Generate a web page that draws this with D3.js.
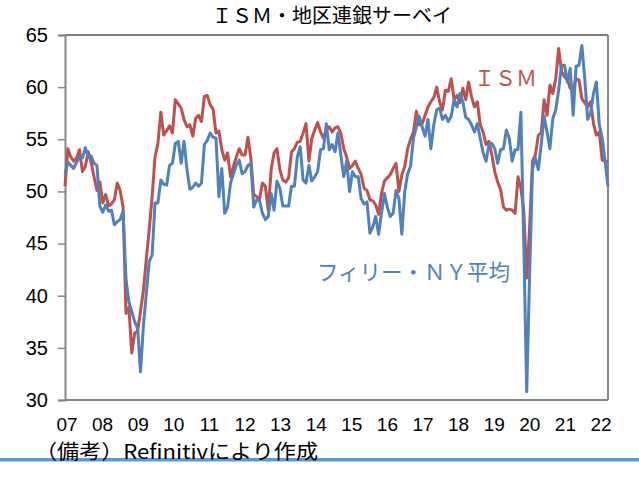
<!DOCTYPE html>
<html>
<head>
<meta charset="utf-8">
<script src="https://cdn.jsdelivr.net/npm/d3@7"></script>
<style>
  html, body { margin: 0; padding: 0; background: #fff; }
  svg { display: block; }
</style>
</head>
<body>
<svg id="chart" width="639" height="478"></svg>
<script>
// ---- data (monthly, Jan 2007 – Aug 2022) ----
const yearLabels = ["07","08","09","10","11","12","13","14","15","16","17","18","19","20","21","22"];
const yTicks = [30, 35, 40, 45, 50, 55, 60, 65];
const seriesNames = ["ＩＳＭ", "フィリー・ＮＹ平均"];
const ism = [
  50.5,54.1,53.3,52.9,53.2,54.0,51.9,52.4,53.8,52.8,51.4,50.1,
  50.9,48.9,49.7,48.6,48.8,49.2,50.8,50.1,48.5,38.3,38.9,34.5,
  36.4,36.6,38.5,40.5,43.5,46.3,49.5,53.3,54.6,57.6,55.4,55.8,
  56.3,55.6,58.8,58.4,58.0,56.9,56.2,56.4,55.3,57.0,57.3,56.7,
  59.1,59.2,58.3,57.9,55.6,55.8,54.0,53.0,53.7,51.4,52.4,53.3,
  54.1,53.5,53.5,55.2,53.2,49.7,49.5,49.3,50.8,50.5,48.2,52.1,
  53.7,54.1,52.1,51.1,50.9,51.3,53.8,54.1,54.7,54.8,55.6,56.5,
  52.9,55.1,55.9,56.6,55.7,55.1,55.9,56.2,55.7,56.1,56.2,55.6,
  54.1,53.3,52.2,52.5,52.9,52.2,51.6,50.3,50.1,49.2,49.1,48.7,
  47.8,49.8,51.0,51.3,51.6,52.2,52.7,50.0,51.6,52.4,54.1,55.0,
  55.7,57.7,56.4,56.5,57.3,58.1,58.6,59.0,60.0,58.6,57.8,59.7,
  59.6,60.8,58.8,59.2,58.5,59.9,58.8,60.5,59.1,58.1,58.6,56.4,
  55.7,54.5,54.8,53.5,51.9,50.9,50.2,48.5,48.2,48.3,48.2,47.9,
  51.4,50.3,48.1,41.7,46.5,52.9,53.5,55.4,55.6,58.8,57.3,60.2,
  59.4,60.8,63.7,61.5,61.0,60.7,59.9,59.9,60.8,60.7,58.9,58.5,
  58.1,58.6,56.5,55.4,55.7,53.0,52.9,52.8
];
const phillyNy = [
  51.6,52.8,52.5,52.2,52.8,53.3,53.2,54.2,53.3,53.4,52.7,52.5,
  48.6,48.0,48.7,48.1,48.2,46.8,47.1,47.3,48.1,41.6,39.4,38.5,
  37.5,36.9,32.7,37.1,40.2,43.3,43.9,48.9,48.9,51.1,50.7,50.6,
  52.5,52.7,54.6,54.8,52.7,54.8,52.1,50.2,50.4,50.8,50.5,50.8,
  54.5,54.9,55.6,55.2,55.1,49.5,52.2,47.9,48.5,50.8,51.7,52.5,
  53.0,51.7,51.9,52.5,52.7,48.5,49.2,49.1,47.9,47.3,47.6,49.8,
  48.2,51.0,50.3,48.6,48.6,48.6,50.5,50.5,53.3,54.3,51.1,50.8,
  52.5,51.0,51.4,51.9,54.0,54.1,56.5,54.0,54.5,53.8,55.6,53.5,
  51.4,52.9,50.0,51.9,51.4,51.4,49.3,48.8,49.0,46.0,46.6,47.6,
  45.9,47.9,49.8,48.5,47.6,47.9,50.1,49.3,45.9,50.0,51.7,52.4,
  55.1,56.2,57.2,56.2,55.3,56.9,54.1,56.4,57.8,58.0,56.9,57.3,
  56.7,57.2,58.8,58.1,59.4,58.6,57.1,56.9,56.4,55.7,56.5,55.1,
  53.7,52.9,54.5,54.6,54.1,52.7,54.0,54.1,55.9,55.1,52.9,54.0,
  54.0,57.6,45.0,30.8,42.0,52.2,53.2,52.1,54.5,57.2,55.7,54.1,
  57.0,57.8,59.7,62.1,62.1,60.5,61.8,57.3,62.0,62.1,64.0,60.8,
  56.9,57.5,59.4,60.5,56.4,55.1,52.9,50.5
];
const titleText = "ＩＳＭ・地区連銀サーベイ";
const noteText = "（備考）Refinitivにより作成";

// ---- drawing ----
const svg = d3.select("#chart");
const red = "#C0504D", blue = "#4F81BD", axisGrey = "#868686";
const numFont = "'Liberation Sans', Arial, sans-serif";
const jpFont = "'Noto Sans CJK JP', 'Noto Sans', sans-serif";

const plot = { left: 65, right: 608, top: 35, bottom: 400 };
const x = d3.scaleLinear().domain([0, ism.length - 1]).range([plot.left, plot.right]);
const y = d3.scaleLinear().domain([30, 65]).range([plot.bottom, plot.top]);
const xLab = d3.scalePoint().domain(yearLabels).range([67, 601]);

// title
svg.append("text").attr("x", 332).attr("y", 23).attr("text-anchor", "middle")
  .attr("font-family", jpFont).attr("font-size", 20).attr("fill", "#000").text(titleText);

// frame: top black, right grey
svg.append("line").attr("x1", plot.left).attr("x2", plot.right).attr("y1", plot.top).attr("y2", plot.top)
  .attr("stroke", "#000").attr("stroke-width", 1.2);
svg.append("line").attr("x1", plot.right).attr("x2", plot.right).attr("y1", plot.top).attr("y2", plot.bottom)
  .attr("stroke", axisGrey).attr("stroke-width", 2);

// y axis
const yAxis = svg.append("g").attr("transform", `translate(${plot.left},0)`)
  .call(d3.axisLeft(y).tickValues(yTicks).tickSize(7).tickPadding(10).tickFormat(d3.format("d")));
yAxis.select(".domain").attr("stroke", axisGrey).attr("stroke-width", 2);
yAxis.selectAll(".tick line").attr("stroke", axisGrey).attr("stroke-width", 1.5);
yAxis.selectAll(".tick text").attr("font-family", numFont).attr("font-size", 20).attr("fill", "#000");

// x axis baseline
svg.append("line").attr("x1", plot.left).attr("x2", plot.right).attr("y1", plot.bottom).attr("y2", plot.bottom)
  .attr("stroke", axisGrey).attr("stroke-width", 2);

// x labels
svg.append("g").selectAll("text").data(yearLabels).join("text")
  .attr("x", d => xLab(d)).attr("y", 431).attr("text-anchor", "middle")
  .attr("font-family", numFont).attr("font-size", 19).attr("fill", "#000").text(d => d);

// lines
const line = d3.line().x((d, i) => x(i)).y(d => y(d));
svg.append("path").datum(ism).attr("d", line).attr("fill", "none")
  .attr("stroke", red).attr("stroke-width", 3).attr("stroke-linejoin", "round");
svg.append("path").datum(phillyNy).attr("d", line).attr("fill", "none")
  .attr("stroke", blue).attr("stroke-width", 3).attr("stroke-linejoin", "round");

// series labels
svg.append("text").attr("x", 474).attr("y", 86).attr("font-family", jpFont).attr("font-size", 21)
  .attr("fill", red).text(seriesNames[0]);
svg.append("text").attr("x", 317).attr("y", 280).attr("font-family", jpFont).attr("font-size", 21.5)
  .attr("fill", blue).text(seriesNames[1]);

// footnote and bottom rule
svg.append("rect").attr("x", 0).attr("y", 458).attr("width", 639).attr("height", 3.5).attr("fill", "#5B9BD5");
svg.append("text").attr("x", 35).attr("y", 459).attr("font-family", jpFont).attr("font-size", 20)
  .attr("textLength", 283).attr("lengthAdjust", "spacingAndGlyphs")
  .attr("fill", "#000").text(noteText);
</script>
</body>
</html>
